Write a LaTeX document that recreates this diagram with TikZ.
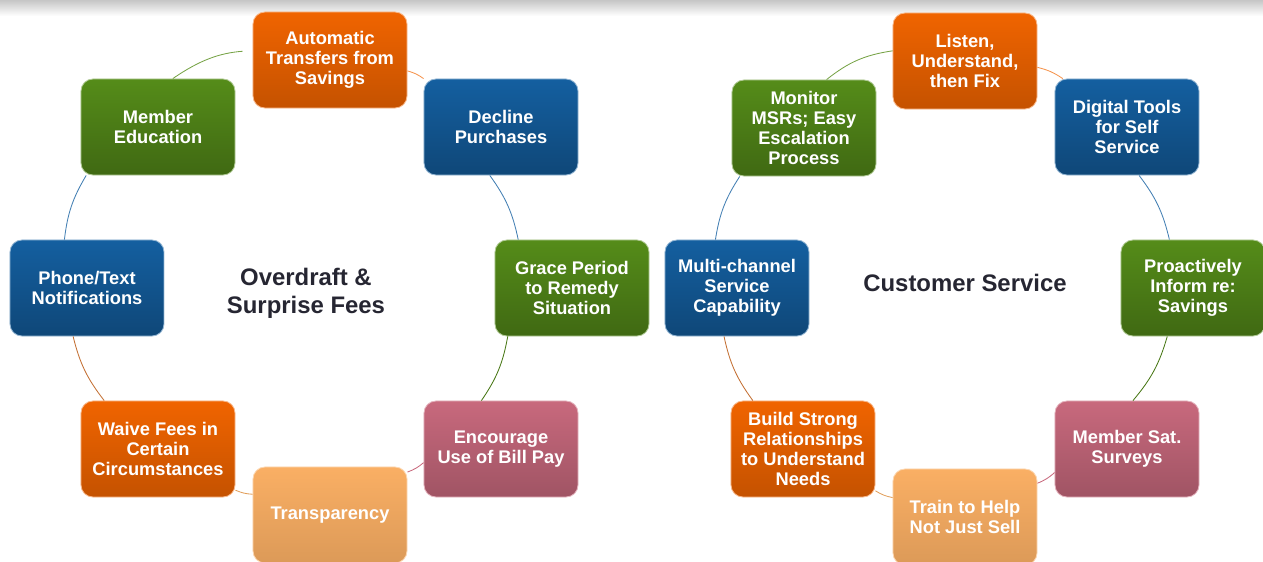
\documentclass[tikz,border=0pt]{standalone}
\usepackage{fontspec}
\setmainfont{Liberation Sans}
\usepackage{tikz}
\definecolor{boxorange}{RGB}{240,100,0}
\definecolor{boxblue}{RGB}{20,95,160}
\definecolor{boxgreen}{RGB}{85,140,25}
\definecolor{boxpink}{RGB}{200,105,125}
\definecolor{boxpeach}{RGB}{250,175,100}
\definecolor{titlegray}{RGB}{38,38,50}
\tikzstyle{box}=[rectangle, rounded corners=0.3cm, minimum width=3.85cm,
  minimum height=2.4cm, inner sep=1pt, align=center, text=white, line width=0.6pt,
  font=\bfseries\fontsize{13}{14.2}\selectfont]
\tikzstyle{narrow}=[minimum width=3.6cm]
\tikzstyle{orangebox}=[box, top color=boxorange, bottom color=boxorange!82!black, draw=boxorange!45!white]
\tikzstyle{bluebox}=[box, top color=boxblue, bottom color=boxblue!75!black, draw=boxblue!45!white]
\tikzstyle{greenbox}=[box, top color=boxgreen, bottom color=boxgreen!75!black, draw=boxgreen!45!white]
\tikzstyle{pinkbox}=[box, top color=boxpink, bottom color=boxpink!80!black, draw=boxpink!50!white]
\tikzstyle{peachbox}=[box, top color=boxpeach, bottom color=boxpeach!88!black, draw=boxpeach!50!white]
\tikzstyle{title}=[align=center, text=titlegray, font=\bfseries\fontsize{17}{20}\selectfont]
\tikzstyle{link}=[line width=0.6pt]

\begin{document}
\begin{tikzpicture}[x=0.025cm, y=0.025cm]
  \useasboundingbox (0,0) rectangle (1263,-561);
  \clip (0,0) rectangle (1263,-561);
  \shade[top color=gray!45, bottom color=white] (0,0) rectangle (1263,-16);

  % overdraft cycle
  \node[orangebox] (auto)   at (330,-60)  {Automatic\\Transfers from\\Savings};
  \node[bluebox]   (decl)   at (501,-127) {Decline\\Purchases};
  \node[greenbox]  (grace)  at (572,-288) {Grace Period\\to Remedy\\Situation};
  \node[pinkbox]   (bill)   at (501,-449) {Encourage\\Use of Bill Pay};
  \node[peachbox]  (transp) at (330,-515) {Transparency};
  \node[orangebox] (waive)  at (158,-449) {Waive Fees in\\Certain\\Circumstances};
  \node[bluebox]   (phone)  at (87,-288)  {Phone/Text\\Notifications};
  \node[greenbox]  (educ)   at (158,-127) {Member\\Education};
  \node[title] (odtitle) at (306,-293) {Overdraft \&\\Surprise Fees};

  \draw[link, boxgreen!80!white, shorten >=0.25cm] (educ.73) to[bend left=15] (auto.173);
  \draw[link, boxorange!70!white] (auto.-8) to[bend left=10] (decl.north west);
  \draw[link, boxblue!80!white] (decl.-103) to[bend left=12] (grace.138);
  \draw[link, boxgreen!85!black] (grace.217) to[bend left=12] (bill.112);
  \draw[link, boxpink] (bill.190) to[bend left=10] (transp.29);
  \draw[link, boxpeach!90!black] (transp.165) to[bend left=10] (waive.-28);
  \draw[link, boxorange!60!gray] (waive.138) to[bend left=12] (phone.-106);
  \draw[link, boxblue!80!white] (phone.115) to[bend left=12] (educ.214);

  % service cycle
  \node[orangebox, narrow] (listen)  at (965,-61)   {Listen,\\Understand,\\then Fix};
  \node[bluebox, narrow]   (digital) at (1127,-127) {Digital Tools\\for Self\\Service};
  \node[greenbox, narrow]  (inform)  at (1193,-288) {Proactively\\Inform re:\\Savings};
  \node[pinkbox, narrow]   (survey)  at (1127,-449) {Member Sat.\\Surveys};
  \node[peachbox, narrow]  (train)   at (965,-517)  {Train to Help\\Not Just Sell};
  \node[orangebox, narrow] (build)   at (803,-449)  {Build Strong\\Relationships\\to Understand\\Needs};
  \node[bluebox, narrow]   (multi)   at (737,-288)  {Multi-channel\\Service\\Capability};
  \node[greenbox, narrow]  (monitor) at (804,-128)  {Monitor\\MSRs; Easy\\Escalation\\Process};
  \node[title] (cstitle) at (965,-283) {Customer Service};

  \draw[link, boxgreen!80!white] (monitor.65) to[bend left=15] (listen.172);
  \draw[link, boxorange!70!white] (listen.-5) to[bend left=10] (digital.143);
  \draw[link, boxblue!80!white] (digital.-76) to[bend left=12] (inform.116);
  \draw[link, boxgreen!85!black] (inform.242) to[bend left=12] (survey.83);
  \draw[link, boxpink] (survey.198) to[bend left=10] (train.25);
  \draw[link, boxpeach!90!black] (train.165) to[bend left=10] (build.-30);
  \draw[link, boxorange!60!gray] (build.136) to[bend left=12] (multi.255);
  \draw[link, boxblue!80!white] (multi.114) to[bend left=12] (monitor.217);
\end{tikzpicture}
\end{document}
